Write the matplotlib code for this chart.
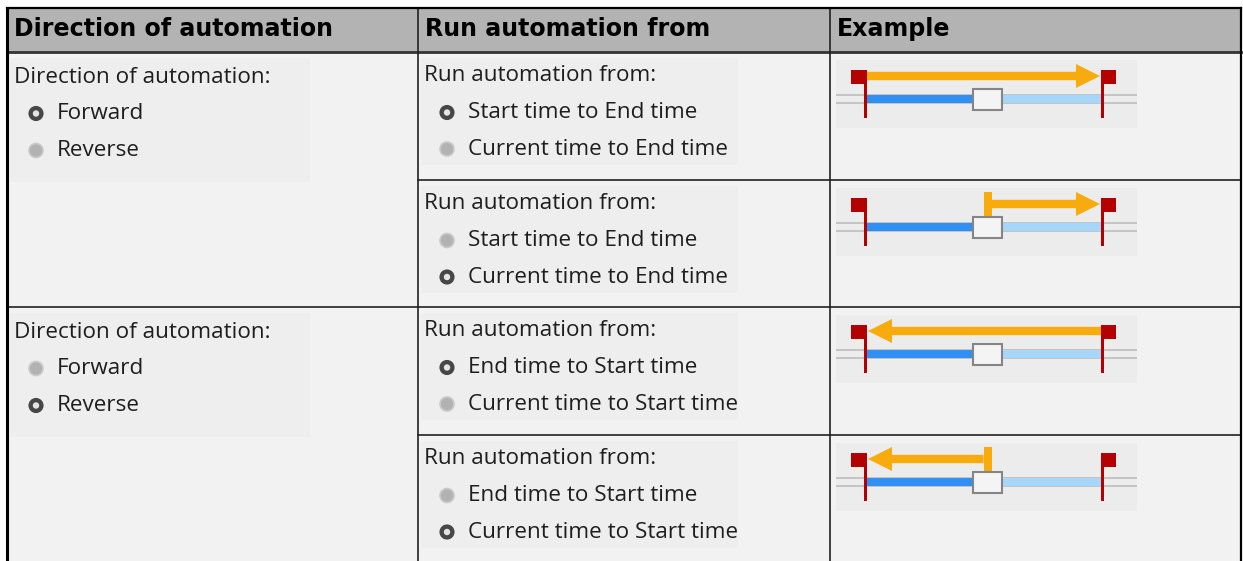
import matplotlib
matplotlib.use('Agg')
import matplotlib.pyplot as plt
from matplotlib.patches import Rectangle, Circle, Polygon

# table content
headers = ['Direction of automation', 'Run automation from', 'Example']
direction_label = 'Direction of automation:'
direction_options = ['Forward', 'Reverse']
run_label = 'Run automation from:'
run_options = [['Start time to End time', 'Current time to End time'],
               ['End time to Start time', 'Current time to Start time']]
# selected option per sub-row (direction, run)
selected_dir = [0, 1]
selected_run = [0, 1, 0, 1]
# arrow in each example: (from, to) on the timeline
arrows = [('start', 'end'), ('current', 'end'), ('end', 'start'), ('current', 'start')]
timeline = {'start': 0.0, 'current': 0.515, 'end': 1.0}

W, H = 1243, 561
fig = plt.figure(figsize=(W / 100, H / 100), dpi=100)
ax = fig.add_axes([0, 0, 1, 1])
ax.set_xlim(0, W)
ax.set_ylim(H, 0)
ax.axis('off')
fig.patch.set_facecolor('white')

L, R, T = 7, 1241, 8
col_x = [L, 418, 830, R]
head_bot = 52
sub_tops = [52, 180, 307, 435, 561]

body_font = 'Open Sans'
body_size = 16.2
txt_col = '#1e1e1e'

# backgrounds
ax.add_patch(Rectangle((L, T), R - L, head_bot - T, fc='#b3b3b3', ec='none'))
ax.add_patch(Rectangle((L, head_bot), R - L, H - head_bot, fc='#f2f2f2', ec='none'))

for i, h in enumerate(headers):
    ax.text(col_x[i] + 7, 29, h, fontsize=17.1, fontweight='bold', family='DejaVu Sans',
            color='black', va='center', ha='left')


def radio(x, y, on):
    if on:
        ax.add_patch(Circle((x, y), 5.4, fc='#e4e4e4', ec='#474747', lw=3.1, zorder=3))
    else:
        ax.add_patch(Circle((x, y), 7.0, fc='#b2b2b2', ec='#cacaca', lw=1.2, zorder=3))


# column 1: direction groups
for r in range(2):
    top = sub_tops[2 * r]
    ax.add_patch(Rectangle((10, top + 6), 300, 124, fc='#eeeeee', ec='none'))
    ax.text(14, top + 25, direction_label, fontsize=body_size, family=body_font,
            color=txt_col, va='center')
    for k, opt in enumerate(direction_options):
        y = top + 61.5 + 37 * k
        radio(36, y, selected_dir[r] == k)
        ax.text(57, y, opt, fontsize=body_size, family=body_font, color=txt_col, va='center')

# column 2: run-from groups
for s in range(4):
    top = sub_tops[s]
    ax.add_patch(Rectangle((421, top + 6), 317, 107, fc='#eeeeee', ec='none'))
    ax.text(424, top + 23.5, run_label, fontsize=body_size, family=body_font,
            color=txt_col, va='center')
    for k, opt in enumerate(run_options[s // 2]):
        y = top + 60.5 + 36.5 * k
        radio(447, y, selected_run[s] == k)
        ax.text(468, y, opt, fontsize=body_size, family=body_font, color=txt_col, va='center')

# column 3: example timelines
x_start, x_end = 865.5, 1102.5


def tx(key):
    return x_start + timeline[key] * (x_end - x_start)


red, orange = '#b30000', '#f8ab0c'
for s in range(4):
    b = sub_tops[s] + 8
    ax.add_patch(Rectangle((836, b), 301, 68, fc='#ececec', ec='none', zorder=1))
    yc = b + 39
    for dy in (-4, 4):
        ax.add_patch(Rectangle((836, yc + dy - 0.7), 301, 1.4, fc='#c4c4c4', ec='none', zorder=1.1))
    xc = tx('current')
    ax.add_patch(Rectangle((x_start, yc - 3.6), xc - x_start, 7.2, fc='#2f8ff2', ec='none', zorder=1.2))
    ax.add_patch(Rectangle((xc, yc - 3.6), x_end - xc, 7.2, fc='#a6d6fa', ec='none', zorder=1.2))
    # flags
    ax.add_patch(Rectangle((x_start - 1.5, b + 10), 3, 48, fc=red, ec='none', zorder=1.3))
    ax.add_patch(Rectangle((x_start - 14, b + 10), 14, 13.5, fc=red, ec='none', zorder=1.3))
    ax.add_patch(Rectangle((x_end - 1.5, b + 10), 3, 48, fc=red, ec='none', zorder=1.3))
    ax.add_patch(Rectangle((x_end, b + 10), 14, 13.5, fc=red, ec='none', zorder=1.3))
    # arrow
    src, dst = arrows[s]
    x0, x1 = tx(src), tx(dst)
    ya = b + 16
    d = 1 if x1 > x0 else -1
    if src == 'current':
        ax.add_patch(Rectangle((x0 - 4, b + 4), 8, 25, fc=orange, ec='none', zorder=1.4))
        x0 += 4 * d
    else:
        x0 += 1.5 * d
    tip = x1 - 2.5 * d
    hb = tip - 24 * d
    ax.add_patch(Polygon([(x0, ya - 4.2), (hb, ya - 4.2), (hb, ya - 12), (tip, ya),
                          (hb, ya + 12), (hb, ya + 4.2), (x0, ya + 4.2)],
                         closed=True, fc=orange, ec='none', zorder=1.4))
    # slider box
    ax.add_patch(Rectangle((xc - 14.5, yc - 10.5), 29, 21, fc='#f4f4f4', ec='#858585',
                           lw=1.5, zorder=1.5))

# grid lines
ax.plot([L, R], [head_bot, head_bot], color='#333333', lw=2)
for x in col_x[1:-1]:
    ax.plot([x, x], [T, H], color='#222222', lw=1.2)
for s, y in enumerate(sub_tops[1:-1], start=1):
    x_from = col_x[1] if s % 2 == 1 else L
    ax.plot([x_from, R], [y, y], color='#222222', lw=1.2)
ax.plot([L, L], [T, H], color='black', lw=2.2)
ax.plot([R, R], [T, H], color='black', lw=1.6)
ax.plot([L, R], [T, T], color='black', lw=1.6)

fig.savefig('out.png', dpi=100, facecolor='white')
